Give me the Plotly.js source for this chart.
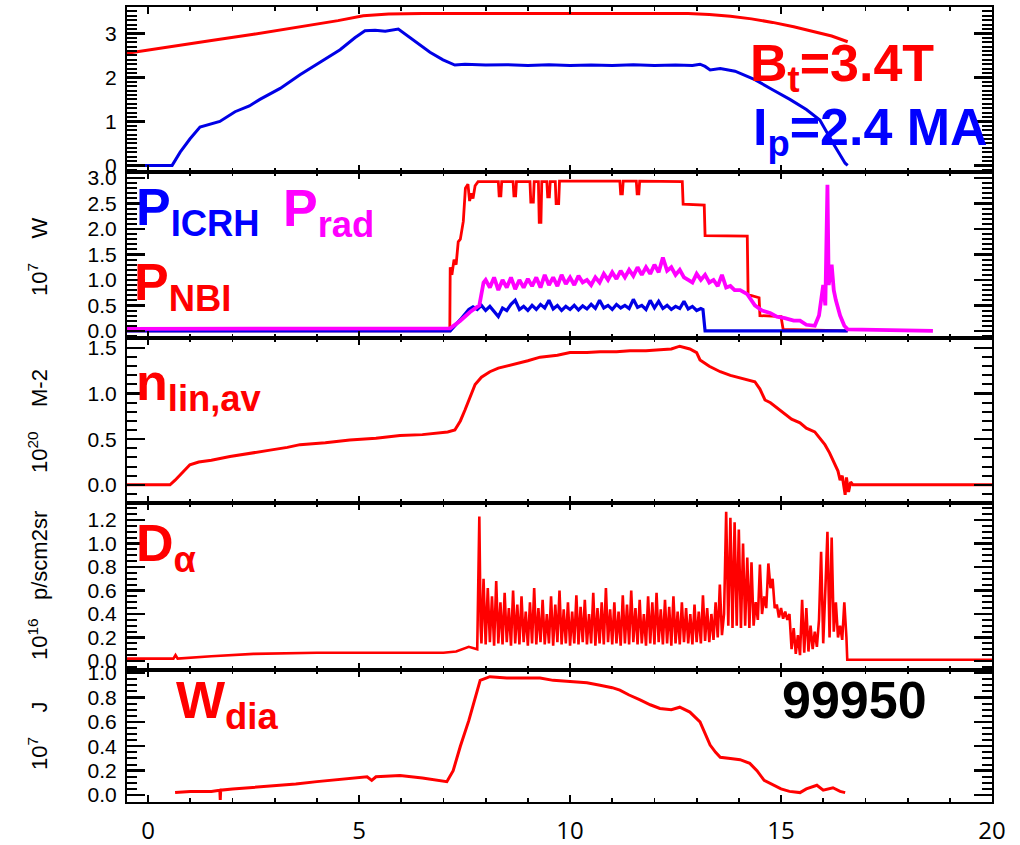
<!DOCTYPE html>
<html><head><meta charset="utf-8">
<script src="https://cdn.plot.ly/plotly-3.0.1.min.js"></script>
<style>html,body{margin:0;padding:0;background:#fff;overflow:hidden}</style>
</head><body>
<div id="chart" style="width:1020px;height:845px"></div>
<script>
// ---------------- data (time in s) ----------------
const X_TICKS = [0, 5, 10, 15, 20];
const X_TICKTEXT = ['0', '5', '10', '15', '20'];

// Panel 1: toroidal field (T) and plasma current (MA)
const BT_T = [-0.5, 0.5, 1.5, 2.5, 3.5, 4.5, 5.1, 5.7, 6.5, 8, 10, 12, 12.8, 13.3, 13.8, 14.3, 14.8, 15.3, 15.8, 16.2, 16.58];
const BT_V = [2.55, 2.70, 2.84, 2.98, 3.13, 3.29, 3.40, 3.44, 3.45, 3.45, 3.45, 3.45, 3.45, 3.43, 3.39, 3.33, 3.25, 3.15, 3.04, 2.94, 2.81];
const IP_T = [-0.5, 0.57, 0.76, 0.99, 1.23, 1.47, 1.7, 2.06, 2.4, 2.65, 3.13, 3.6, 4.07, 4.55, 4.9, 5.14, 5.38, 5.62, 5.93, 6.21, 6.44, 6.68, 6.99, 7.27, 7.51, 8.0, 8.5, 9, 9.5, 10, 10.5, 11, 11.5, 12, 12.5, 12.9, 13.08, 13.2, 13.32, 13.56, 13.91, 14.38, 14.8, 15.21, 15.6, 15.92, 16.23, 16.52, 16.58];
const IP_V = [0, 0, 0.3, 0.6, 0.87, 0.93, 1.0, 1.22, 1.35, 1.5, 1.75, 2.06, 2.35, 2.63, 2.9, 3.06, 3.07, 3.05, 3.1, 2.9, 2.74, 2.57, 2.4, 2.28, 2.3, 2.28, 2.29, 2.27, 2.29, 2.27, 2.28, 2.27, 2.29, 2.27, 2.28, 2.27, 2.3, 2.25, 2.17, 2.2, 2.14, 1.95, 1.72, 1.5, 1.27, 1.03, 0.51, 0.05, 0];

// Panel 2: heating / radiated power (10^7 W)
const NBI_T = [-0.5, 7.15, 7.16, 7.2, 7.25, 7.3, 7.35, 7.4, 7.47, 7.52, 7.58, 7.62, 7.66, 7.7, 7.75, 7.82, 8.3, 8.32, 8.36, 8.38, 8.65, 8.67, 8.71, 8.73, 9.05, 9.07, 9.13, 9.15, 9.25, 9.27, 9.31, 9.33, 9.45, 9.47, 9.51, 9.53, 9.65, 9.67, 9.73, 9.75, 11.18, 11.2, 11.24, 11.26, 11.57, 11.59, 11.63, 11.65, 12.66, 12.68, 13.18, 13.2, 14.2, 14.22, 14.48, 14.5, 15.0, 15.05, 16.58];
const NBI_V = [0, 0, 1.25, 1.1, 1.4, 1.3, 1.75, 1.8, 2.15, 2.8, 2.88, 2.55, 2.7, 2.6, 2.85, 2.93, 2.93, 2.65, 2.65, 2.93, 2.93, 2.65, 2.65, 2.93, 2.93, 2.53, 2.53, 2.93, 2.93, 2.13, 2.13, 2.93, 2.93, 2.63, 2.63, 2.93, 2.93, 2.5, 2.5, 2.94, 2.94, 2.69, 2.69, 2.94, 2.94, 2.69, 2.69, 2.94, 2.93, 2.49, 2.47, 1.87, 1.86, 0.71, 0.65, 0.3, 0.28, 0.03, 0];

const ICRH_PRE_T = [-0.5, 7.16, 7.4, 7.6];
const ICRH_PRE_V = [0, 0, 0.22, 0.42];
const ICRH_T0 = 7.7, ICRH_DT = 0.1;   // sampled segment
const ICRH_SAMPLES = [0.47, 0.42, 0.5, 0.4, 0.48, 0.38, 0.28, 0.45, 0.4, 0.52, 0.6, 0.42, 0.48, 0.4, 0.5, 0.42, 0.52, 0.45, 0.6, 0.43, 0.5, 0.4, 0.48, 0.42, 0.5, 0.41, 0.49, 0.43, 0.52, 0.44, 0.6, 0.45, 0.5, 0.42, 0.52, 0.45, 0.5, 0.44, 0.62, 0.46, 0.5, 0.42, 0.6, 0.45, 0.58, 0.44, 0.5, 0.42, 0.48, 0.44, 0.58, 0.43, 0.48, 0.4, 0.44];
const ICRH_POST_T = [13.15, 13.2, 16.58];
const ICRH_POST_V = [0.42, 0, 0];

const PRAD_PRE_T = [-0.5, 3, 5.5, 7.16, 7.4, 7.63, 7.85, 7.95];
const PRAD_PRE_V = [0.04, 0.04, 0.05, 0.05, 0.2, 0.37, 0.5, 0.95];
const PRAD_T0 = 8.0, PRAD_DT = 0.1;   // sampled segment
const PRAD_SAMPLES = [1.0, 0.85, 1.05, 0.8, 1.0, 0.85, 1.05, 0.82, 1.0, 0.85, 1.02, 0.88, 1.05, 0.85, 1.1, 0.9, 1.05, 0.88, 1.1, 0.92, 1.05, 0.9, 1.08, 0.95, 1.0, 0.9, 1.05, 0.95, 1.12, 1.0, 1.15, 1.02, 1.18, 1.05, 1.2, 1.08, 1.25, 1.1, 1.25, 1.12, 1.3, 1.15, 1.44, 1.18, 1.25, 1.1, 1.2, 1.05, 1.0, 0.95, 1.12, 1.0, 1.1, 0.95, 1.0, 0.88, 1.1, 0.85, 0.88, 0.8];
const PRAD_POST_T = [14.03, 14.2, 14.38, 14.55, 14.74, 14.9, 15.09, 15.3, 15.45, 15.6, 15.8, 15.9, 16.0, 16.05, 16.1, 16.13, 16.2, 16.25, 16.3, 16.4, 16.5, 16.58, 18.6];
const PRAD_POST_V = [0.8, 0.72, 0.5, 0.4, 0.35, 0.28, 0.25, 0.2, 0.2, 0.12, 0.1, 0.3, 0.9, 0.5, 2.87, 0.9, 1.3, 0.8, 0.6, 0.3, 0.1, 0.03, 0.0];

// Panel 3: line-averaged density (10^20 m^-2)
const NE_T = [-0.5, 0.52, 0.64, 0.76, 0.88, 0.99, 1.2, 1.5, 1.94, 2.4, 2.89, 3.3, 3.6, 4.2, 4.78, 5.4, 5.97, 6.5, 6.92, 7.1, 7.27, 7.4, 7.51, 7.63, 7.75, 7.9, 8.1, 8.3, 8.58, 9.0, 9.29, 9.7, 10.0, 10.4, 10.71, 11.1, 11.42, 11.8, 12.13, 12.4, 12.6, 12.75, 12.84, 13.0, 13.08, 13.3, 13.56, 13.8, 14.03, 14.2, 14.38, 14.5, 14.62, 14.75, 14.97, 15.1, 15.25, 15.45, 15.6, 15.8, 15.9, 16.04, 16.15, 16.28, 16.35, 16.4, 16.45, 16.52, 16.55, 16.6, 16.65, 16.7, 17, 18, 19, 20];
const NE_V = [0, 0, 0.05, 0.11, 0.17, 0.22, 0.25, 0.27, 0.31, 0.34, 0.38, 0.41, 0.44, 0.46, 0.49, 0.51, 0.54, 0.55, 0.57, 0.58, 0.6, 0.7, 0.82, 0.97, 1.1, 1.18, 1.24, 1.28, 1.31, 1.36, 1.4, 1.42, 1.45, 1.45, 1.46, 1.46, 1.47, 1.47, 1.48, 1.49, 1.52, 1.5, 1.49, 1.45, 1.37, 1.3, 1.24, 1.2, 1.17, 1.15, 1.13, 1.05, 0.93, 0.9, 0.82, 0.78, 0.72, 0.68, 0.62, 0.58, 0.52, 0.44, 0.35, 0.22, 0.15, 0.05, 0.1, -0.11, 0.08, -0.08, 0.03, 0.0, 0.0, 0.0, 0.0, 0.0];

// Panel 4: D-alpha (10^16 p/scm2sr)
const DA_PRE_T = [-0.5, 0.6, 0.65, 0.7, 1.5, 2.5, 4, 6, 7.0, 7.3, 7.6, 7.8, 7.85, 7.88];
const DA_PRE_V = [0.02, 0.02, 0.05, 0.02, 0.04, 0.06, 0.07, 0.07, 0.07, 0.08, 0.12, 0.1, 1.23, 0.3];
const DA_T0 = 7.9, DA_DT = 0.05;      // sampled segment
const DA_SAMPLES = [
  0.15, 0.7, 0.14, 0.62, 0.16, 0.55, 0.13, 0.68, 0.15, 0.5, 0.14, 0.58, 0.16, 0.45, 0.13, 0.6, 0.15, 0.48, 0.14, 0.55,
  0.16, 0.42, 0.13, 0.5, 0.15, 0.62, 0.14, 0.45, 0.16, 0.52, 0.14, 0.4, 0.15, 0.55, 0.13, 0.48, 0.16, 0.6, 0.14, 0.44,
  0.15, 0.5, 0.13, 0.42, 0.15, 0.56, 0.14, 0.46, 0.16, 0.52, 0.14, 0.4, 0.15, 0.58, 0.13, 0.45, 0.15, 0.5, 0.14, 0.62,
  0.16, 0.44, 0.14, 0.5, 0.15, 0.42, 0.13, 0.56, 0.15, 0.48, 0.14, 0.6, 0.16, 0.45, 0.14, 0.52, 0.15, 0.4, 0.13, 0.55,
  0.15, 0.5, 0.14, 0.58, 0.16, 0.44, 0.14, 0.52, 0.15, 0.46, 0.13, 0.55, 0.15, 0.42, 0.14, 0.5, 0.16, 0.45, 0.15, 0.4,
  0.14, 0.48, 0.16, 0.42, 0.15, 0.56, 0.17, 0.45, 0.16, 0.4, 0.18, 0.5, 0.2, 0.65, 0.22, 0.4,
  1.27, 0.3, 1.22, 0.28, 1.18, 0.3, 1.12, 0.28, 1.0, 0.3, 0.88, 0.28, 0.84, 0.3, 0.5, 0.35, 0.82, 0.4, 0.55, 0.45,
  0.83, 0.62, 0.7, 0.45, 0.48, 0.37, 0.45, 0.36, 0.42, 0.35, 0.4, 0.1, 0.28, 0.06, 0.22, 0.05, 0.52, 0.07, 0.45, 0.08,
  0.3, 0.1, 0.25, 0.12, 0.35, 0.93, 0.15, 0.6, 1.1, 0.2, 1.05, 0.25, 0.5, 0.2, 0.3, 0.18, 0.5, 0.2];
const DA_POST_T = [16.57, 20];
const DA_POST_V = [0.01, 0.01];

// Panel 5: diamagnetic energy (10^7 J)
const W_T = [0.64, 1.0, 1.5, 1.7, 1.71, 1.72, 2.0, 2.82, 3.5, 4.0, 4.6, 5.19, 5.3, 5.4, 5.97, 6.5, 7.08, 7.23, 7.4, 7.6, 7.87, 8.1, 8.5, 9.0, 9.29, 9.6, 10.0, 10.4, 10.71, 11.0, 11.18, 11.4, 11.66, 11.9, 12.13, 12.4, 12.6, 12.84, 13.08, 13.2, 13.32, 13.45, 13.56, 13.8, 14.03, 14.26, 14.43, 14.6, 14.81, 15.0, 15.2, 15.45, 15.6, 15.85, 16.0, 16.23, 16.4, 16.52];
const W_V = [0.02, 0.03, 0.03, 0.04, -0.04, 0.04, 0.05, 0.07, 0.09, 0.11, 0.13, 0.15, 0.12, 0.15, 0.16, 0.14, 0.11, 0.2, 0.4, 0.61, 0.94, 0.97, 0.96, 0.96, 0.96, 0.94, 0.93, 0.92, 0.9, 0.88, 0.86, 0.82, 0.78, 0.74, 0.71, 0.7, 0.72, 0.68, 0.6, 0.5, 0.41, 0.35, 0.31, 0.3, 0.29, 0.26, 0.2, 0.12, 0.08, 0.05, 0.03, 0.02, 0.05, 0.08, 0.04, 0.06, 0.03, 0.02];

// ---------------- helpers ----------------
function sampleTimes(t0, dt, vals) { return vals.map((_, i) => +(t0 + i * dt).toFixed(4)); }
function joinSeg(preT, preV, t0, dt, samples, postT, postV) {
  return { x: preT.concat(sampleTimes(t0, dt, samples), postT), y: preV.concat(samples, postV) };
}
const ICRH = joinSeg(ICRH_PRE_T, ICRH_PRE_V, ICRH_T0, ICRH_DT, ICRH_SAMPLES, ICRH_POST_T, ICRH_POST_V);
const PRAD = joinSeg(PRAD_PRE_T, PRAD_PRE_V, PRAD_T0, PRAD_DT, PRAD_SAMPLES, PRAD_POST_T, PRAD_POST_V);
const DA = joinSeg(DA_PRE_T, DA_PRE_V, DA_T0, DA_DT, DA_SAMPLES, DA_POST_T, DA_POST_V);

const RED = '#ff0000', BLUE = '#0000e6', MAG = '#ff00ff';
function line(x, y, color, ax, width) {
  return { type: 'scatter', mode: 'lines', x: x, y: y, xaxis: 'x' + ax, yaxis: 'y' + ax,
           line: { color: color, width: width || 3 }, hoverinfo: 'skip' };
}
function sfx(k) { return k === 1 ? '' : String(k); }

const data = [
  line(BT_T, BT_V, RED, ''), line(IP_T, IP_V, BLUE, ''),
  line(NBI_T, NBI_V, RED, 2, 2.8), line(ICRH.x, ICRH.y, BLUE, 2, 3.2), line(PRAD.x, PRAD.y, MAG, 2, 3.8),
  line(NE_T, NE_V, RED, 3),
  line(DA.x, DA.y, RED, 4, 2.6),
  line(W_T, W_V, RED, 5)
];

// ---------------- layout ----------------
const TICKFONT = { family: 'Liberation Sans, Arial, sans-serif', size: 21, color: '#000' };
const DOMAINS = [[0.79245, 1], [0.58365, 0.79245], [0.37610, 0.58365], [0.16604, 0.37610], [0, 0.16604]];
const YRANGES = [[-0.15, 3.6], [-0.14, 3.12], [-0.2, 1.61], [-0.077, 1.345], [-0.057, 1.025]];
const YDTICK = [1, 0.5, 0.5, 0.2, 0.2];
const YMINOR = [0.1, 0.1, 0.1, 0.05, 0.05];
const YFMT = ['d', '.1f', '.1f', '.1f', '.1f'];
const XRANGE = [-0.5, 20];
const X_MINOR_DT = 1;

const layout = {
  width: 1020, height: 845,
  margin: { l: 127, r: 28, t: 7, b: 43 },
  showlegend: false,
  annotations: [],
};

const frame = { showline: true, linewidth: 2, linecolor: '#000', mirror: 'ticks', showgrid: false, zeroline: false };
// label-free twin axis that only draws one set of tick marks (mirrored on the opposite side)
function tickTwin(extra, len, width) {
  return Object.assign({ tick0: 0, ticks: 'inside', ticklen: len, tickwidth: width,
    tickcolor: '#000', showticklabels: false }, frame, extra);
}

for (let i = 0; i < 5; i++) {
  const k = i + 1, s = sfx(k);
  const yMaj = String(k + 5), yMin = String(k + 10), xMaj = String(k + 5), xMin = String(k + 10);
  // main axes carry the labels (transparent outside ticks only set the label distance)
  layout['xaxis' + s] = Object.assign({
    domain: [0, 1], anchor: 'y' + s,
    range: XRANGE, tickmode: 'array', tickvals: X_TICKS, ticktext: X_TICKTEXT,
    ticks: 'outside', ticklen: 6, tickcolor: 'rgba(0,0,0,0)',
    showticklabels: k === 5,
    tickfont: { family: 'Open Sans, Lato, sans-serif', size: 24, color: '#000' },
  }, frame, { mirror: true });
  layout['yaxis' + s] = Object.assign({
    domain: DOMAINS[i], anchor: 'x' + s, range: YRANGES[i],
    tick0: 0, dtick: YDTICK[i], tickformat: YFMT[i],
    ticks: 'outside', ticklen: 4, tickcolor: 'rgba(0,0,0,0)',
    tickfont: TICKFONT,
  }, frame, { mirror: true });
  // tick-mark twins
  layout['yaxis' + yMaj] = tickTwin({ overlaying: 'y' + s, anchor: 'x' + s, domain: DOMAINS[i], range: YRANGES[i], dtick: YDTICK[i] }, 18, 2.4);
  layout['yaxis' + yMin] = tickTwin({ overlaying: 'y' + s, anchor: 'x' + s, domain: DOMAINS[i], range: YRANGES[i], dtick: YMINOR[i] }, 10, 2);
  layout['xaxis' + xMaj] = tickTwin({ overlaying: 'x' + s, anchor: 'y' + s, domain: [0, 1], range: XRANGE, dtick: 5 }, 7, 2);
  layout['xaxis' + xMin] = tickTwin({ overlaying: 'x' + s, anchor: 'y' + s, domain: [0, 1], range: XRANGE, dtick: X_MINOR_DT }, 4, 1.8);
  [['x' + s, 'y' + yMaj], ['x' + s, 'y' + yMin], ['x' + xMaj, 'y' + s], ['x' + xMin, 'y' + s]].forEach(p =>
    data.push({ type: 'scatter', mode: 'lines', x: [], y: [], xaxis: p[0], yaxis: p[1], hoverinfo: 'skip' }));
}

// unit labels (rotated) left of panels 2-5
const NB = '\u00a0';
const UNIT_LABELS = [
  { text: '10<sup>7</sup>' + NB.repeat(4) + 'W', y: 0.6855 },
  { text: '10<sup>20</sup>' + NB.repeat(4) + 'M-2', y: 0.4792 },
  { text: '10<sup>16</sup>' + NB.repeat(3) + 'p/scm2sr', y: 0.2730 },
  { text: '10<sup>7</sup>' + NB.repeat(4) + 'J', y: 0.0843 },
];
UNIT_LABELS.forEach(u => layout.annotations.push({
  xref: 'paper', yref: 'paper', x: -0.1029, y: u.y, xanchor: 'center', yanchor: 'middle',
  text: u.text, textangle: -90, showarrow: false,
  font: { family: 'Liberation Sans, Arial, sans-serif', size: 22, color: '#000' }
}));

// big in-panel labels
const BIG = { family: 'Liberation Sans, Arial, sans-serif', size: 52, weight: 'bold' };
const LABELS = [
  { text: '<b>B<sub>t</sub>=3.4T</b>', x: 0.7179, y: 0.9686, color: '#ff0000' },
  { text: '<b>I<sub>p</sub>=2.4 MA</b>', x: 0.7214, y: 0.8881, color: '#0000ff' },
  { text: '<b>P<sub>ICRH</sub></b>', x: 0.0081, y: 0.7874, color: '#0000ff' },
  { text: '<b>P<sub>rad</sub></b>', x: 0.1780, y: 0.7862, color: '#ff00ff' },
  { text: '<b>P<sub>NBI</sub></b>', x: 0.0058, y: 0.6931, color: '#ff0000' },
  { text: '<b>n<sub>lin,av</sub></b>', x: 0.0081, y: 0.5673, color: '#ff0000' },
  { text: '<b>D<sub>α</sub></b>', x: 0.0081, y: 0.3648, color: '#ff0000' },
  { text: '<b>W<sub>dia</sub></b>', x: 0.0543, y: 0.1673, color: '#ff0000' },
  { text: '<b>99950</b>', x: 0.7549, y: 0.1673, color: '#000000' },
];
LABELS.forEach(l => layout.annotations.push({
  xref: 'paper', yref: 'paper', x: l.x, y: l.y, xanchor: 'left', yanchor: 'top',
  text: l.text, showarrow: false,
  font: Object.assign({}, BIG, { color: l.color })
}));

Plotly.newPlot('chart', data, layout, { staticPlot: true });
</script>
</body></html>
